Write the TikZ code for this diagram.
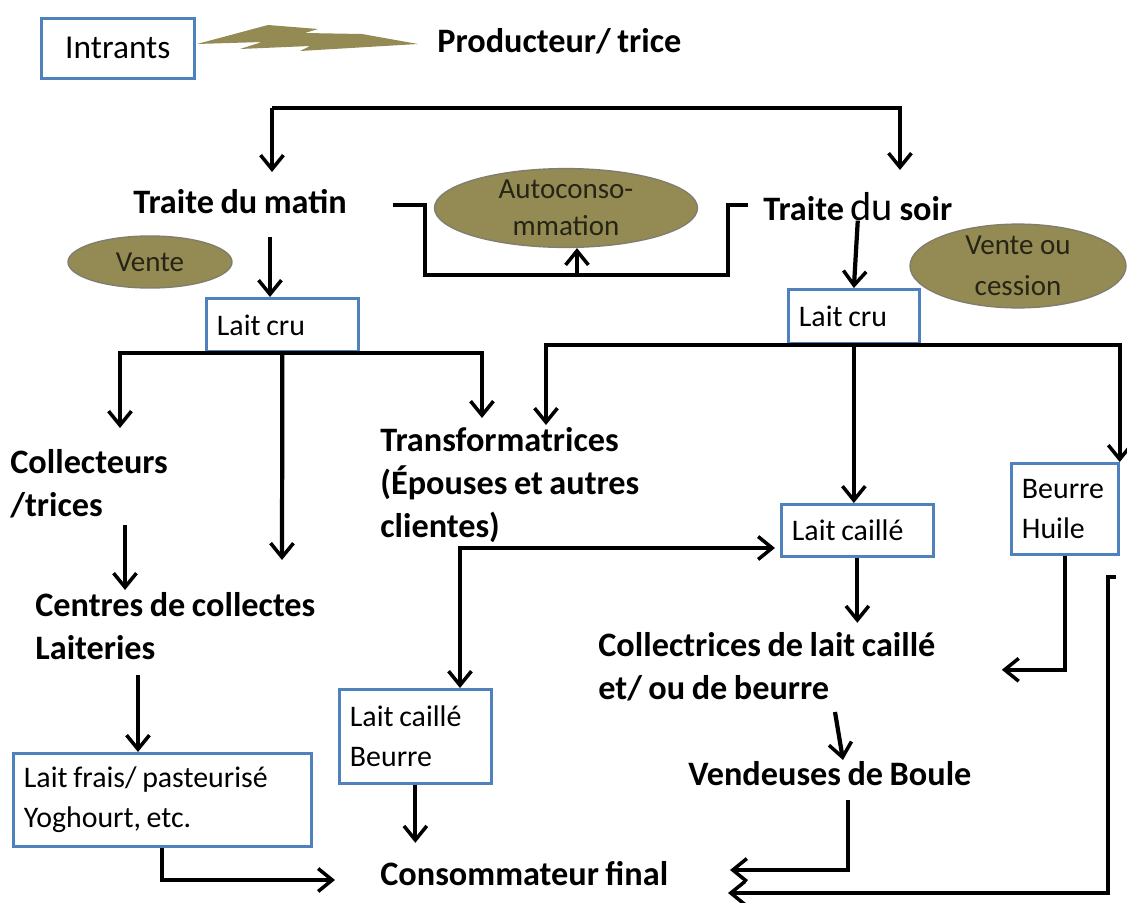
\documentclass[tikz,border=0pt]{standalone}
\usepackage{fontspec}
\setmainfont{Carlito}
\usetikzlibrary{arrows.meta,positioning,shapes.geometric}
\definecolor{oliv}{RGB}{148,138,84}
\definecolor{olivbd}{RGB}{128,126,108}
\definecolor{boxbl}{RGB}{79,129,189}
\definecolor{eltxt}{RGB}{38,36,20}
\newcommand{\tight}{\spaceskip 0.19em\relax}
\tikzset{lb/.style={font=\bfseries\fontsize{19.5}{24.5}\selectfont, align=left, inner sep=0pt, anchor=north west,
            execute at begin node=\tight},
         bx/.style={draw=boxbl, line width=1.6pt, fill=white, font=\fontsize{17}{22.5}\selectfont,
            align=left, inner xsep=6pt, inner ysep=0pt, anchor=north west,
            execute at begin node=\tight},
         el/.style={ellipse, fill=oliv, draw=olivbd, line width=0.8pt, text=eltxt,
            font=\fontsize{16.5}{21}\selectfont, align=center, inner sep=0pt},
         ln/.style={line width=2.4pt, line join=miter}}
\begin{document}
\begin{tikzpicture}[x=0.02cm, y=-0.02cm, >={Straight Barb[length=8pt,width=13pt,line width=2pt]}]
\useasboundingbox (0,0) rectangle (1127,903);
% top row
 \node[bx, align=center, text width=2.637cm, minimum height=1.2cm, font=\fontsize{19}{23}\selectfont] (intr) at (40,17) {Intrants};
 \fill[oliv] (197,44) -- (268,25) -- (318,29) -- (305,33) -- (362,34) -- (418,44) -- (300,51)
   -- (310,46) -- (240,49) -- (262,42) -- cycle;
 \node[lb, anchor=base west] (prod) at (437,52) {Producteur/ trice};

% traites
 \node[lb, anchor=base west] (tmat) at (133,213) {Traite du matin};
 \node[lb, anchor=base west] (tsoir) at (763,220) {Traite {\mdseries\fontsize{23}{27}\selectfont du} soir};
 \node[el, minimum width=5.26cm, minimum height=1.28cm] (auto) at (566,208) {Autoconso-\\mmation};
 \node[el, minimum width=3.28cm, minimum height=1.04cm] (vente) at (150,262) {Vente};
 \node[el, minimum width=4.32cm, minimum height=1.52cm, font=\fontsize{16.5}{23}\selectfont] (vcess) at (1018,266) {Vente ou\\cession};

% boxes
 \node[bx, text width=2.617cm, minimum height=1.06cm] (lcru1) at (205,297) {Lait cru};
 \node[bx, text width=2.197cm, minimum height=1.08cm] (lcru2) at (787,288) {Lait cru};
 \node[bx, text width=2.617cm, minimum height=1.04cm] (lcaille) at (780,503) {Lait caillé};
 \node[bx, text width=1.717cm, minimum height=1.82cm] (beurre) at (1010,462) {Beurre\\Huile};
 \node[bx, text width=2.617cm, minimum height=1.88cm] (lcb) at (338,688) {Lait caillé\\Beurre};
 \node[bx, text width=5.537cm, minimum height=1.86cm] (lfrais) at (12,752) {Lait frais/ pasteurisé\\Yoghourt, etc.};

% acteurs
 \node[lb] (coll) at (10,449) {Collecteurs\\/trices};
 \node[lb] (trans) at (380,427) {Transformatrices\\(Épouses et autres\\clientes)};
 \node[lb] (centres) at (35,592) {Centres de collectes\\Laiteries};
 \node[lb] (colc) at (598,632) {Collectrices de lait caillé\\et/ ou de beurre};
 \node[lb, anchor=base west] (vboule) at (688,785) {Vendeuses de Boule};
 \node[lb, anchor=base west] (conso) at (380,885) {Consommateur final};

% free ends
 \coordinate (tl) at (272,108);
 \coordinate (tr) at (900,108);
 \coordinate (acl) at (393,205);
 \coordinate (acr) at (748,205);
 \coordinate (acb) at (577,275);
 \coordinate (m1) at (270,237);
 \coordinate (p1) at (120,428);
 \coordinate (p2) at (282,560);
 \coordinate (p3) at (482,418);
 \coordinate (p4) at (546,425);
 \coordinate (q1) at (460,688);
 \coordinate (q2) at (775,548);
 \coordinate (c1) at (125,525);
 \coordinate (c2) at (138,675);
 \coordinate (k1) at (335,880);
 \coordinate (v1) at (835,712);
 \coordinate (v2) at (843,760);
 \coordinate (b1) at (848,800);
 \coordinate (f1) at (730,870);
 \coordinate (r1) at (1116,577);
 \coordinate (f2) at (728,893);

% connectors
 \draw[ln, ->] (tl) -- (tr) -- ++(0,62);
 \draw[ln, ->] (tl) -- ++(0,64);
 \draw[ln] (acl) -- ++(32,0) |- (acb) -| (728,205) -- (acr);
 \draw[ln, ->] (acb) -- (acb |- auto.south);
 \draw[ln, ->] (m1) -- (m1 |- lcru1.north);
 \draw[ln, ->] (tsoir.south) -- (lcru2.north);
 \draw[ln, ->] (lcru1.south) -| (p1);
 \draw[ln, ->] (lcru1.south) -| (p3);
 \draw[ln, ->] (lcru1.south) -- (p2);
 \draw[ln, ->] (lcru2.south) -| (p4);
 \draw[ln, ->] (lcru2.south) -- (lcru2.south |- lcaille.north);
 \draw[ln, ->] (lcru2.south) -| (beurre.north east);
 \draw[ln, <->] (q1) |- (q2);
 \draw[ln, ->] (c1) -- ++(0,65);
 \draw[ln, ->] (c2) -- (c2 |- lfrais.north);
 \draw[ln, ->] (lfrais.south) |- (k1);
 \draw[ln, ->] (lcb.south) -- ++(0,58);
 \draw[ln, ->] (lcaille.south) -- ++(0,65);
 \draw[ln, ->] (beurre.south) |- ++(-63,114);
 \draw[ln, ->] (v1) -- (v2);
 \draw[ln, ->] (b1) |- (f1);
 \draw[ln, ->] (r1) -- ++(-8,0) |- (f2);
\end{tikzpicture}
\end{document}
